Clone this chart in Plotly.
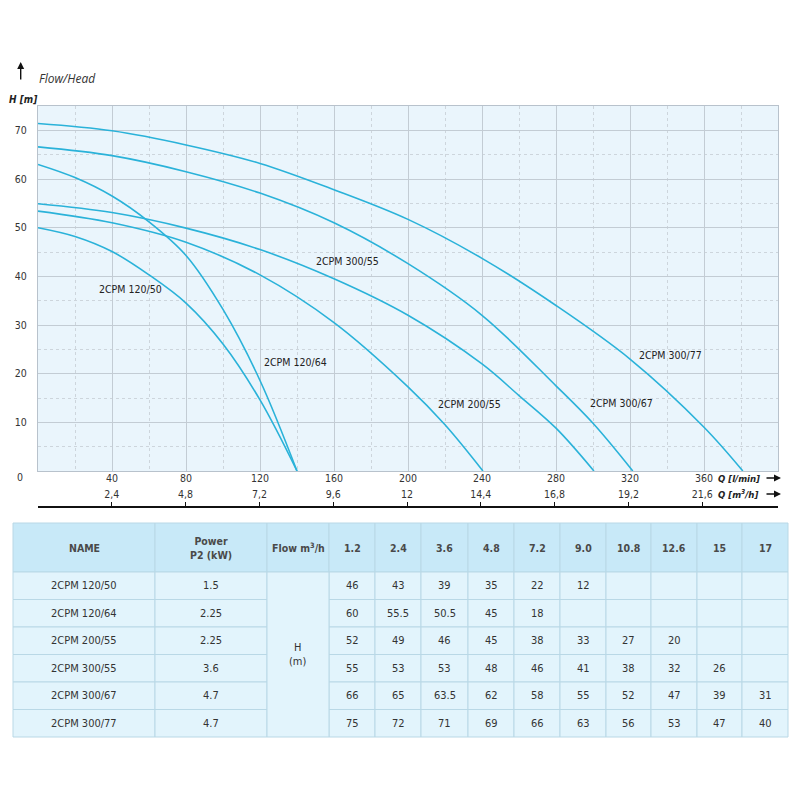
import plotly.graph_objects as go

# --- curve data: Q [l/min] vs H [m] ---
q_120_50 = [0, 20, 40, 60, 80, 100, 120, 140]
h_120_50 = [50, 48.2, 45.1, 40.3, 34.5, 26.1, 14.6, 0]

q_120_64 = [0, 20, 40, 60, 80, 100, 120, 140]
h_120_64 = [63, 60.3, 56.5, 51.2, 44.3, 33.2, 18.6, 0]

q_200_55 = [0, 40, 80, 120, 160, 200, 220, 240.5]
h_200_55 = [53.4, 51.0, 47.0, 40.3, 30.5, 17.3, 9.5, 0]

q_300_55 = [0, 40, 80, 120, 160, 200, 240, 260, 280, 300.5]
h_300_55 = [54.9, 53.1, 49.9, 45.5, 39.5, 32.0, 22.0, 15.5, 8.8, 0]

q_300_67 = [0, 40, 80, 120, 160, 200, 240, 280, 300, 321.5]
h_300_67 = [66.6, 64.8, 61.5, 57.1, 51.0, 42.6, 32.0, 17.5, 9.8, 0]

q_300_77 = [0, 40, 80, 120, 160, 200, 240, 280, 320, 360, 381]
h_300_77 = [71.4, 69.9, 67.0, 63.2, 57.8, 51.7, 43.7, 34.0, 23.0, 9.0, 0]

curves = [
    ("2CPM 120/50", q_120_50, h_120_50, 31.7, 37.4),
    ("2CPM 120/64", q_120_64, h_120_64, 120.9, 22.3),
    ("2CPM 200/55", q_200_55, h_200_55, 215.1, 13.7),
    ("2CPM 300/55", q_300_55, h_300_55, 149.2, 43.2),
    ("2CPM 300/67", q_300_67, h_300_67, 297.5, 13.9),
    ("2CPM 300/77", q_300_77, h_300_77, 323.6, 23.9),
]

# axis ticks
q_lmin_ticks = [40, 80, 120, 160, 200, 240, 280, 320, 360]
q_m3h_ticks = [2.4, 4.8, 7.2, 9.6, 12, 14.4, 16.8, 19.2, 21.6]
h_ticks = [10, 20, 30, 40, 50, 60, 70]

# --- table data ---
names = ["2CPM 120/50", "2CPM 120/64", "2CPM 200/55", "2CPM 300/55", "2CPM 300/67", "2CPM 300/77"]
powers = ["1.5", "2.25", "2.25", "3.6", "4.7", "4.7"]
flows = ["1.2", "2.4", "3.6", "4.8", "7.2", "9.0", "10.8", "12.6", "15", "17"]
heads = [
    ["46", "43", "39", "35", "22", "12", "", "", "", ""],
    ["60", "55.5", "50.5", "45", "18", "", "", "", "", ""],
    ["52", "49", "46", "45", "38", "33", "27", "20", "", ""],
    ["55", "53", "53", "48", "46", "41", "38", "32", "26", ""],
    ["66", "65", "63.5", "62", "58", "55", "52", "47", "39", "31"],
    ["75", "72", "71", "69", "66", "63", "56", "53", "47", "40"],
]

# the page body has an 8px margin, so the figure is 784px and starts at (8, 8)
OFF = 8
W = 784
H = 784
FONT = "DejaVu Sans Condensed, Liberation Sans Narrow, Arial Narrow, sans-serif"
LINE = "#2ab2d9"


def px(x):
    return (x - OFF) / W


def py(y):
    return 1 - (y - OFF) / H


fig = go.Figure()
annots = []

for name, q, h, lx, ly in curves:
    fig.add_trace(go.Scatter(x=q, y=h, mode="lines", name=name,
                             line=dict(color=LINE, width=1.6, shape="spline", smoothing=1),
                             hoverinfo="x+y+name"))
    annots.append(dict(x=lx, y=ly, xref="x", yref="y", text=name, showarrow=False,
                       xanchor="left", yanchor="middle",
                       font=dict(family=FONT, size=10.5, color="#222")))

# empty trace so the m3/h axis gets drawn
fig.add_trace(go.Scatter(x=[0, 24], y=[None, None], xaxis="x2", yaxis="y",
                         mode="lines", showlegend=False, hoverinfo="skip"))

# y "0", titles and arrows
annots.append(dict(x=px(20), y=py(477), xref="paper", yref="paper", text="0", showarrow=False,
                   xanchor="center", yanchor="middle",
                   font=dict(family=FONT, size=10.5, color="#333")))
annots.append(dict(x=px(37), y=py(78), xref="paper", yref="paper", text="<i>Flow/Head</i>",
                   showarrow=False, xanchor="left", yanchor="middle",
                   font=dict(family="Open Sans", size=12, color="#333")))
annots.append(dict(x=px(7), y=py(99), xref="paper", yref="paper", text="<b><i>H [m]</i></b>",
                   showarrow=False, xanchor="left", yanchor="middle",
                   font=dict(family=FONT, size=10, color="#222")))
annots.append(dict(x=px(20.7), y=py(62), xref="paper", yref="paper", text="", showarrow=True,
                   ax=0, ay=19, arrowhead=2, arrowsize=1, arrowwidth=1.4, arrowcolor="#111"))
for yy, txt in [(478, "<b><i>Q [l/min]</i></b>"), (494, "<b><i>Q [m<sup>3</sup>/h]</i></b>")]:
    annots.append(dict(x=px(716), y=py(yy), xref="paper", yref="paper", text=txt, showarrow=False,
                       xanchor="left", yanchor="middle",
                       font=dict(family=FONT, size=9.5, color="#222")))
    annots.append(dict(x=px(781), y=py(yy), xref="paper", yref="paper", text="", showarrow=True,
                       ax=-16, ay=0, arrowhead=2, arrowsize=1, arrowwidth=1.4, arrowcolor="#111"))

# --- table ---
col_edges = [13, 155, 267, 329, 375, 421, 468, 514, 560, 606, 651, 697, 742, 788]
row_edges = [523, 572, 599.5, 627, 654.5, 682, 709.5, 737]
HEAD_FILL = "#c8e9f8"
BODY_FILL = "#e2f4fc"
GRID = "#b9d8e6"
shapes = []


def cell(x0, x1, y0, y1, fill):
    shapes.append(dict(type="rect", xref="paper", yref="paper",
                       x0=px(x0), x1=px(x1), y0=py(y1), y1=py(y0),
                       fillcolor=fill, line=dict(color=GRID, width=1), layer="below"))


def text(x, y, t, size=11, bold=False, color="#333"):
    if bold:
        t = "<b>" + t + "</b>"
    annots.append(dict(x=px(x), y=py(y), xref="paper", yref="paper", text=t, showarrow=False,
                       xanchor="center", yanchor="middle",
                       font=dict(family=FONT, size=size, color=color)))


headers = ["NAME", "Power<br>P2 (kW)", "Flow m<sup>3</sup>/h"] + flows
for i, hd in enumerate(headers):
    cell(col_edges[i], col_edges[i + 1], row_edges[0], row_edges[1], HEAD_FILL)
    text((col_edges[i] + col_edges[i + 1]) / 2, (row_edges[0] + row_edges[1]) / 2, hd,
         size=10.5, bold=True, color="#4a4a4a")

for r in range(len(names)):
    y0, y1 = row_edges[r + 1], row_edges[r + 2]
    ym = (y0 + y1) / 2
    vals = [names[r], powers[r], None] + heads[r]
    for i, v in enumerate(vals):
        if v is None:
            continue
        cell(col_edges[i], col_edges[i + 1], y0, y1, BODY_FILL)
        if v:
            text((col_edges[i] + col_edges[i + 1]) / 2, ym, v)

# merged "H (m)" cell
cell(col_edges[2], col_edges[3], row_edges[1], row_edges[-1], BODY_FILL)
text((col_edges[2] + col_edges[3]) / 2, (row_edges[1] + row_edges[-1]) / 2, "H<br>(m)")

grid_major = "#c3ccd4"
grid_minor = "#cdd5dc"

fig.update_layout(
    width=W, height=H,
    margin=dict(l=0, r=0, t=0, b=0),
    paper_bgcolor="white",
    plot_bgcolor="#eaf5fc",
    showlegend=False,
    separators=", ",
    font=dict(family=FONT, size=10.5, color="#333"),
    xaxis=dict(domain=[px(38), px(778)], range=[0, 400], tickmode="array", tickvals=q_lmin_ticks,
               showgrid=True, gridcolor=grid_major, gridwidth=1, zeroline=False,
               showline=True, linecolor="#b8c2cc", mirror=True,
               ticks="", ticklabelstandoff=-3, tickfont=dict(family=FONT, size=10.5, color="#333"),
               minor=dict(tickmode="array", tickvals=[20, 60, 100, 140, 180, 220, 260, 300, 340, 380],
                          showgrid=True, gridcolor=grid_minor, griddash="dot", ticks="")),
    yaxis=dict(domain=[py(471), py(106)], range=[0, 75], tickmode="array", tickvals=h_ticks,
               showgrid=True, gridcolor=grid_major, gridwidth=1, zeroline=False,
               showline=True, linecolor="#b8c2cc", mirror=True,
               ticks="", ticklabelstandoff=8, tickfont=dict(family=FONT, size=10.5, color="#333"),
               minor=dict(tickmode="array", tickvals=[5, 15, 25, 35, 45, 55, 65],
                          showgrid=True, gridcolor=grid_minor, griddash="dot", ticks="")),
    xaxis2=dict(overlaying="x", domain=[px(38), px(780)], range=[0, 24 * 742 / 740],
                anchor="free", position=py(507), side="top",
                tickmode="array", tickvals=q_m3h_ticks, ticks="outside", ticklen=4,
                tickcolor="#111", tickwidth=1.2,
                showline=True, linecolor="#111", linewidth=2, showgrid=False, zeroline=False,
                tickfont=dict(family=FONT, size=10.5, color="#333")),
    annotations=annots,
    shapes=shapes,
)

fig.write_html("out.html")
